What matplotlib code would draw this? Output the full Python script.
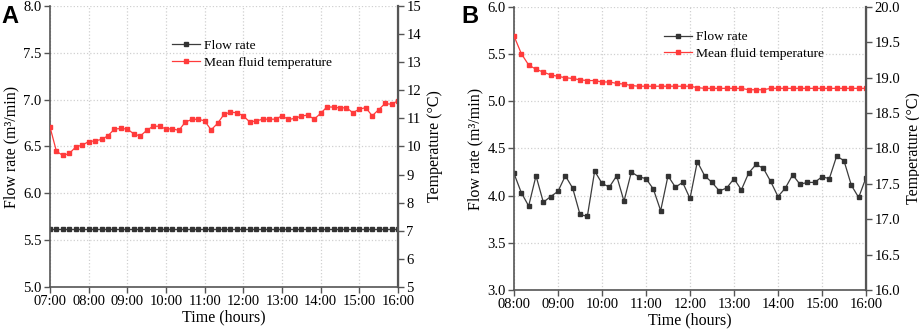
import numpy as np
import matplotlib
matplotlib.use("Agg")
import matplotlib.pyplot as plt

plt.rcParams['font.family'] = ['Liberation Serif', 'DejaVu Serif']

# ---- Panel A data (07:00 - 16:00, 10 min steps) ----
hours_a = np.arange(7 * 6, 16 * 6 + 1) / 6.0
flow_a = [5.62, 5.62, 5.62, 5.62, 5.62, 5.62, 5.62, 5.62, 5.62, 5.62, 5.62,
          5.62, 5.62, 5.62, 5.62, 5.62, 5.62, 5.62, 5.62, 5.62, 5.62, 5.62,
          5.62, 5.62, 5.62, 5.62, 5.62, 5.62, 5.62, 5.62, 5.62, 5.62, 5.62,
          5.62, 5.62, 5.62, 5.62, 5.62, 5.62, 5.62, 5.62, 5.62, 5.62, 5.62,
          5.62, 5.62, 5.62, 5.62, 5.62, 5.62, 5.62, 5.62, 5.62, 5.62, 5.62]
temp_a = [10.70, 9.83, 9.68, 9.75, 9.98, 10.05, 10.17, 10.20, 10.25, 10.38,
          10.62, 10.64, 10.62, 10.45, 10.37, 10.57, 10.72, 10.72, 10.62, 10.63,
          10.57, 10.87, 10.96, 10.97, 10.91, 10.59, 10.82, 11.14, 11.22, 11.20,
          11.09, 10.87, 10.91, 10.97, 10.97, 10.97, 11.09, 10.96, 11.00, 11.08,
          11.12, 10.97, 11.18, 11.41, 11.40, 11.37, 11.38, 11.20, 11.33, 11.38,
          11.09, 11.31, 11.53, 11.50, 11.63]
ticks_a = ['07:00', '08:00', '09:00', '10:00', '11:00', '12:00', '13:00',
           '14:00', '15:00', '16:00']

# ---- Panel B data (08:00 - 16:00, 10 min steps) ----
hours_b = np.arange(8 * 6, 16 * 6 + 1) / 6.0
flow_b = [4.235, 4.03, 3.89, 4.21, 3.93, 3.99, 4.045, 4.21, 4.08, 3.80,
          3.78, 4.26, 4.13, 4.09, 4.21, 3.94, 4.25, 4.20, 4.18, 4.07,
          3.84, 4.21, 4.09, 4.14, 3.97, 4.36, 4.21, 4.14, 4.05, 4.08,
          4.18, 4.06, 4.24, 4.33, 4.29, 4.15, 3.99, 4.08, 4.22, 4.12,
          4.14, 4.14, 4.20, 4.18, 4.42, 4.37, 4.11, 3.98, 4.19]
temp_b = [19.59, 19.34, 19.18, 19.12, 19.08, 19.04, 19.02, 19.00, 18.99, 18.97,
          18.96, 18.96, 18.94, 18.94, 18.92, 18.91, 18.89, 18.88, 18.88, 18.88,
          18.88, 18.88, 18.88, 18.88, 18.88, 18.86, 18.85, 18.85, 18.85, 18.85,
          18.85, 18.85, 18.83, 18.83, 18.83, 18.85, 18.85, 18.85, 18.85, 18.85,
          18.85, 18.85, 18.85, 18.85, 18.85, 18.85, 18.85, 18.85, 18.85]
ticks_b = ['08:00', '09:00', '10:00', '11:00', '12:00', '13:00', '14:00',
           '15:00', '16:00']

FLOW_C = '#3c3c3c'
TEMP_C = '#ff3b3b'
SPINE_C = '#555555'


def style_axes(ax, ax2):
    ax.spines['top'].set_visible(False)
    ax2.spines['top'].set_visible(False)
    for s in ['left', 'bottom']:
        ax.spines[s].set_color(SPINE_C)
        ax.spines[s].set_linewidth(1.2)
    ax2.spines['right'].set_color(SPINE_C)
    ax2.spines['right'].set_linewidth(1.6)
    for s in ['left', 'bottom']:
        ax2.spines[s].set_visible(False)
    ax.tick_params(direction='out', length=4, width=1.0, color=SPINE_C,
                   labelsize=10.5, pad=2)
    ax2.tick_params(direction='out', length=4, width=1.0, color=SPINE_C,
                    labelsize=10.5, pad=2)
    ax.grid(True, color='#d0d0d0', linestyle=':', linewidth=0.9)
    ax.set_axisbelow(True)


def draw_panel(fig, rect, hours, flow, temp, tick_labels, flim, fticks,
               tlim, tticks, tfmt, leg_anchor, letter, letter_xy):
    ax = fig.add_axes(rect)
    ax2 = ax.twinx()
    l1, = ax.plot(hours, flow, color=FLOW_C, lw=0.9, marker='s', ms=2.4,
                  mfc='#333333', mec='#333333', label='Flow rate')
    l2, = ax2.plot(hours, temp, color=TEMP_C, lw=0.9, marker='s', ms=2.6,
                   mfc=TEMP_C, mec=TEMP_C, label='Mean fluid temperature')
    ax.set_xlim(hours[0], hours[-1])
    ax.set_xticks(np.arange(int(round(hours[0])), int(round(hours[-1])) + 1))
    ax.set_xticklabels(tick_labels)
    ax.set_ylim(*flim)
    ax.set_yticks(fticks)
    ax.set_yticklabels(['%.1f' % v for v in fticks])
    ax2.set_ylim(*tlim)
    ax2.set_yticks(tticks)
    ax2.set_yticklabels([tfmt % v for v in tticks])
    ax.set_xlabel('Time (hours)', fontsize=11.5, labelpad=1)
    ax.set_ylabel('Flow rate (m³/min)', fontsize=11.5, labelpad=3)
    ax2.set_ylabel('Temperature (°C)', fontsize=11.5, labelpad=4)
    style_axes(ax, ax2)
    ax.legend([l1, l2], ['Flow rate', 'Mean fluid temperature'],
              loc='upper left', bbox_to_anchor=leg_anchor, frameon=False,
              fontsize=9.7, markerscale=1.0, handlelength=2.1,
              handletextpad=0.3, labelspacing=0.3, borderaxespad=0,
              borderpad=0, markerfirst=True, numpoints=1)
    fig.text(letter_xy[0], letter_xy[1], letter, fontsize=17,
             fontweight='bold', family='Liberation Sans', va='top', ha='left')
    return ax, ax2


fig = plt.figure(figsize=(9.2, 3.34), dpi=100)

draw_panel(fig, [0.0543, 0.141, 0.3783, 0.841], hours_a, flow_a, temp_a,
           ticks_a, (5.0, 8.0), np.arange(5.0, 8.01, 0.5), (5, 15),
           np.arange(5, 16, 1), '%d', (0.35, 0.88), 'A', (0.002, 0.985))

draw_panel(fig, [0.5587, 0.132, 0.3826, 0.847], hours_b, flow_b, temp_b,
           ticks_b, (3.0, 6.0), np.arange(3.0, 6.01, 0.5), (16.0, 20.0),
           np.arange(16.0, 20.01, 0.5), '%.1f', (0.426, 0.915), 'B',
           (0.501, 0.985))

fig.savefig('out.png', dpi=100)
